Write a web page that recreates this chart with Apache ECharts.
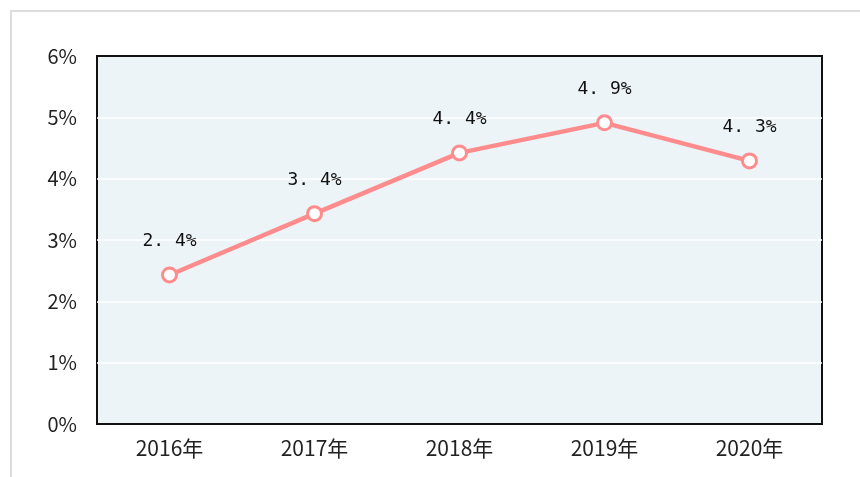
<!DOCTYPE html>
<html>
<head>
<meta charset="utf-8">
<script src="https://cdn.jsdelivr.net/npm/echarts@6/dist/echarts.min.js"></script>
<style>
html, body { margin: 0; padding: 0; background: #fff; }
.frame {
    position: absolute;
    left: 10px;
    top: 10px;
    width: 860px;
    height: 480px;
    border-left: 2px solid #dcdcdc;
    border-top: 2px solid #dcdcdc;
}
#chart { position: absolute; left: 0; top: 0; width: 860px; height: 477px; }
</style>
</head>
<body>
<div class="frame"></div>
<div id="chart"></div>
<script>
// 年份与增长率
var years = ['2016年', '2017年', '2018年', '2019年', '2020年'];
var rates = [2.43, 3.43, 4.42, 4.91, 4.29];
var yTicks = ['0%', '1%', '2%', '3%', '4%', '5%', '6%'];

var myChart = echarts.init(document.getElementById('chart'));
var option = {
    animation: false,
    grid: {
        left: 97,
        right: 38,
        top: 56,
        bottom: 53,
        show: true,
        backgroundColor: '#edf4f8',
        borderColor: '#111',
        borderWidth: 2
    },
    xAxis: {
        type: 'category',
        data: years,
        boundaryGap: true,
        axisLine: { show: false },
        axisTick: { show: false },
        axisLabel: {
            color: '#222',
            fontSize: 21,
            fontFamily: 'Noto Sans CJK SC',
            margin: 14
        }
    },
    yAxis: {
        type: 'value',
        min: 0,
        max: 6,
        interval: 1,
        axisLine: { show: false },
        axisTick: { show: false },
        axisLabel: {
            color: '#222',
            fontSize: 20,
            fontFamily: 'Liberation Sans Narrow, Noto Sans CJK SC',
            margin: 20,
            formatter: function (v) { return yTicks[v]; }
        },
        splitLine: {
            // 首尾两条不画，免得盖住边框
            lineStyle: {
                color: ['transparent', '#fff', '#fff', '#fff', '#fff', '#fff', 'transparent'],
                width: 1.5
            }
        }
    },
    series: [
        {
            type: 'line',
            data: rates,
            symbol: 'circle',
            symbolSize: 14,
            lineStyle: { color: '#ff8c8c', width: 4.5 },
            itemStyle: {
                color: '#ffffff',
                borderColor: '#ff8c8c',
                borderWidth: 3
            },
            label: {
                show: true,
                position: 'top',
                distance: 16,
                color: '#111',
                fontSize: 18,
                fontFamily: 'DejaVu Sans Mono',
                formatter: function (p) {
                    return p.value.toFixed(1).replace('.', '. ') + '%';
                }
            }
        }
    ]
};
myChart.setOption(option);
</script>
</body>
</html>
